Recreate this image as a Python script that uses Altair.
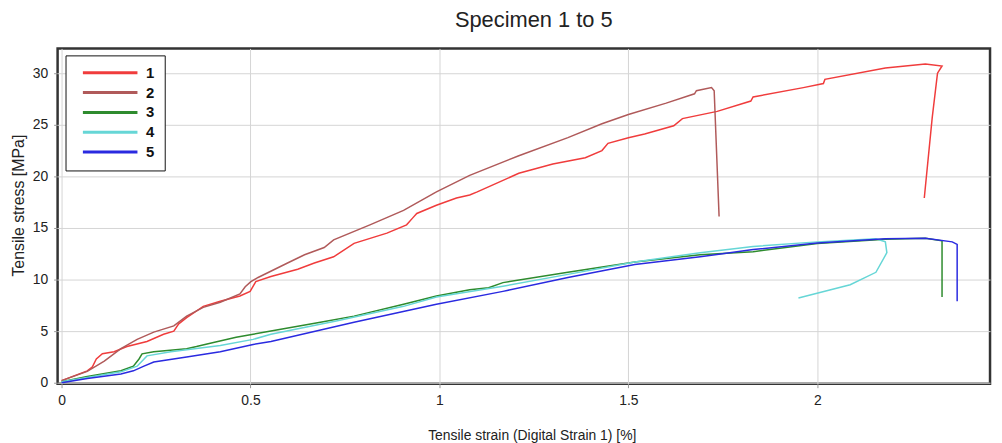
import altair as alt
import pandas as pd

# Specimen 1 (red)
s1_x = [0, 0.068, 0.081, 0.092, 0.108, 0.139, 0.173, 0.226, 0.27, 0.297, 0.31, 0.331, 0.375, 0.42, 0.472,
        0.499, 0.514, 0.554, 0.625, 0.669, 0.72, 0.774, 0.861, 0.913, 0.93, 0.94, 0.992, 1.045, 1.08, 1.10,
        1.21, 1.30, 1.386, 1.43, 1.446, 1.50, 1.543, 1.62, 1.643, 1.735, 1.824, 1.83, 1.963, 2.016, 2.02,
        2.18, 2.286, 2.33, 2.318, 2.304, 2.283]
s1_y = [0.2, 1.15, 1.5, 2.3, 2.8, 3.0, 3.5, 4.0, 4.7, 5.0, 5.7, 6.3, 7.4, 7.9, 8.4,
        8.85, 9.8, 10.3, 11.0, 11.6, 12.2, 13.5, 14.5, 15.3, 16.0, 16.4, 17.2, 17.9, 18.2, 18.5,
        20.3, 21.2, 21.8, 22.5, 23.2, 23.75, 24.1, 24.9, 25.6, 26.3, 27.3, 27.7, 28.6, 29.0, 29.4,
        30.5, 30.9, 30.7, 30.0, 25.7, 17.9]

# Specimen 2 (brown)
s2_x = [0, 0.068, 0.113, 0.157, 0.2, 0.244, 0.297, 0.331, 0.375, 0.42, 0.472, 0.486, 0.501, 0.52, 0.598,
        0.643, 0.695, 0.72, 0.816, 0.905, 0.992, 1.08, 1.21, 1.34, 1.43, 1.50, 1.60, 1.675, 1.68, 1.72,
        1.727, 1.74]
s2_y = [0.2, 1.1, 2.1, 3.3, 4.2, 4.9, 5.5, 6.45, 7.3, 7.8, 8.6, 9.3, 9.8, 10.2, 11.6,
        12.4, 13.1, 13.85, 15.3, 16.7, 18.5, 20.1, 22.0, 23.75, 25.1, 26.0, 27.1, 28.0, 28.3, 28.6,
        28.3, 16.1]

# Specimen 3 (green)
s3_x = [0, 0.068, 0.157, 0.19, 0.205, 0.213, 0.244, 0.331, 0.357, 0.402, 0.462, 0.507, 0.554, 0.685,
        0.774, 0.905, 0.992, 1.08, 1.13, 1.168, 1.34, 1.517, 1.69, 1.83, 2.0, 2.18, 2.286, 2.33, 2.33]
s3_y = [0.1, 0.6, 1.15, 1.6, 2.3, 2.8, 3.0, 3.3, 3.5, 3.9, 4.4, 4.7, 5.0, 5.85,
        6.45, 7.6, 8.4, 9.0, 9.2, 9.7, 10.7, 11.7, 12.4, 12.7, 13.5, 13.9, 14.0, 13.75, 8.3]

# Specimen 4 (cyan)
s4_x = [0, 0.068, 0.157, 0.2, 0.226, 0.289, 0.42, 0.507, 0.554, 0.73, 0.905, 0.992, 1.168, 1.34,
        1.517, 1.69, 1.83, 2.0, 2.155, 2.18, 2.184, 2.155, 2.087, 1.95]
s4_y = [0.1, 0.5, 1.05, 1.6, 2.6, 3.0, 3.6, 4.2, 4.7, 6.0, 7.4, 8.3, 9.35, 10.5,
        11.7, 12.6, 13.2, 13.65, 13.95, 13.65, 12.6, 10.7, 9.5, 8.2]

# Specimen 5 (blue)
s5_x = [0, 0.068, 0.157, 0.19, 0.218, 0.244, 0.331, 0.42, 0.507, 0.554, 0.774, 0.992, 1.168, 1.34,
        1.517, 1.69, 1.83, 2.0, 2.18, 2.286, 2.357, 2.37, 2.37]
s5_y = [0.0, 0.4, 0.85, 1.15, 1.6, 2.0, 2.5, 3.0, 3.7, 4.0, 5.85, 7.6, 8.85, 10.2,
        11.45, 12.2, 12.9, 13.55, 13.95, 14.0, 13.65, 13.4, 7.9]

names = ["1", "2", "3", "4", "5"]
colors = ["#f03c3c", "#b05a5a", "#2e8b2e", "#66d6d6", "#2a2ae0"]
series = [(s1_x, s1_y), (s2_x, s2_y), (s3_x, s3_y), (s4_x, s4_y), (s5_x, s5_y)]

rows = []
for name, (xs, ys) in zip(names, series):
    for i, (a, b) in enumerate(zip(xs, ys)):
        rows.append({"specimen": name, "i": i, "strain": a, "stress": b})
df = pd.DataFrame(rows)

FONT = "Liberation Sans"

chart = alt.Chart(df).mark_line(strokeWidth=1.5, clip=True).encode(
    x=alt.X("strain:Q",
            scale=alt.Scale(domain=[-0.0105, 2.457], nice=False, zero=False),
            axis=alt.Axis(values=[0, 0.5, 1, 1.5, 2], format="~g",
                          title="Tensile strain (Digital Strain 1) [%]",
                          titlePadding=21, titleX=478)),
    y=alt.Y("stress:Q",
            scale=alt.Scale(domain=[-0.1, 32.4], nice=False, zero=False),
            axis=alt.Axis(values=[0, 5, 10, 15, 20, 25, 30],
                          title="Tensile stress [MPa]", titlePadding=6,
                          titleFontSize=16, titleY=158)),
    color=alt.Color("specimen:N",
                    scale=alt.Scale(domain=names, range=colors),
                    legend=alt.Legend(title=None, orient="none", legendX=8, legendY=7,
                                      symbolType="M0,0L10,0", symbolSize=121,
                                      symbolStrokeWidth=3, labelFontWeight="bold",
                                      labelFontSize=15, labelFont=FONT, labelColor="#111",
                                      labelExpr="datum.label + '\u00a0\u00a0\u00a0\u00a0\u00a0'",
                                      strokeColor="#111", fillColor="white",
                                      padding=10, rowPadding=4, labelOffset=56)),
    order=alt.Order("i:Q"),
).properties(
    width=940, height=338,
    background="white",
    title=alt.TitleParams("Specimen 1 to 5", fontSize=22, fontWeight="normal",
                          font=FONT, color="#222", offset=17, dx=10),
    padding={"left": 50, "top": 39, "right": 4, "bottom": 58},
    autosize=alt.AutoSizeParams(type="none"),
).configure_axis(
    labelFont=FONT, titleFont=FONT, labelFontSize=14, titleFontSize=14,
    titleFontWeight="normal", labelColor="#222", titleColor="#222",
    gridColor="#d4d4d4", gridWidth=1, domain=False,
    tickColor="#999", tickSize=4, labelPadding=6,
).configure_view(
    stroke="#333", strokeWidth=2.5
)

chart.save("out.html", embed_options={"renderer": "svg", "actions": False})
